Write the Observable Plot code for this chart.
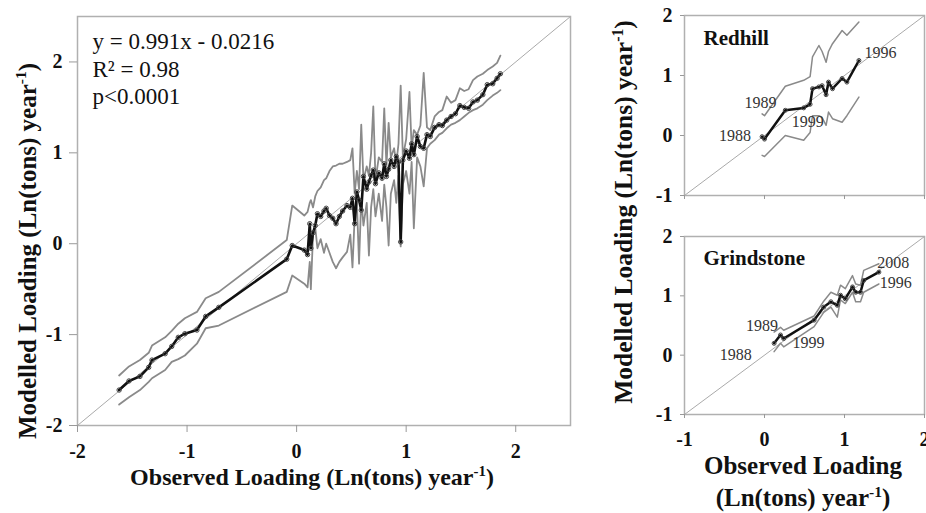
<!DOCTYPE html>
<html><head><meta charset="utf-8">
<script src="https://cdn.jsdelivr.net/npm/d3@7"></script>
<script src="https://cdn.jsdelivr.net/npm/@observablehq/plot@0.6"></script>
<style>
body{margin:0;background:#fff;}
#wrap{position:relative;width:926px;height:513px;overflow:hidden;font-family:"Liberation Serif","Times New Roman",serif;}
.panel{position:absolute;}
.title{position:absolute;font-weight:bold;white-space:nowrap;color:#111;line-height:1;}
.title sup{font-size:0.62em;vertical-align:0.6em;line-height:0;}
</style></head>
<body><div id="wrap"></div>
<script>
// ---------- main panel data ----------
const mainDomain = [-2, 2.5];
const mainTicks = [-2, -1, 0, 1, 2];
const mainObserved = [-1.62,-1.53,-1.43,-1.35,-1.32,-1.20,-1.14,-1.08,-1.02,-0.91,-0.83,-0.71,-0.09,-0.04,0.07,
 0.10,0.12,0.13,0.15,0.17,0.19,0.22,0.25,0.27,0.30,0.33,0.36,0.39,0.42,0.46,0.49,0.51,0.53,0.55,0.57,
 0.59,0.61,0.64,0.66,0.68,0.70,0.72,0.75,0.78,0.80,0.82,0.84,0.86,0.89,0.91,0.93,0.95,0.97,1.00,1.03,
 1.05,1.07,1.10,1.13,1.16,1.19,1.22,1.26,1.30,1.33,1.37,1.41,1.45,1.49,1.53,1.57,1.61,1.65,1.70,1.74,
 1.79,1.83,1.86];
const mainModelled = [-1.61,-1.51,-1.46,-1.36,-1.28,-1.21,-1.13,-1.03,-0.99,-0.95,-0.80,-0.70,-0.17,-0.02,-0.07,
 -0.12,0.22,-0.05,0.12,0.20,0.33,0.30,0.36,0.39,0.31,0.28,0.22,0.30,0.36,0.42,0.40,0.50,0.22,0.57,0.48,
 0.37,0.74,0.60,0.68,0.75,0.81,0.66,0.78,0.72,0.88,0.74,0.82,0.92,0.85,0.96,0.90,0.02,0.92,1.02,0.94,
 1.10,0.98,1.18,1.07,1.05,1.20,1.18,1.28,1.31,1.30,1.36,1.40,1.43,1.52,1.50,1.49,1.56,1.58,1.64,1.75,
 1.76,1.82,1.87];
const mainUpper = [-1.45,-1.35,-1.28,-1.20,-1.12,-1.03,-0.96,-0.88,-0.82,-0.75,-0.60,-0.53,0.04,0.42,0.31,
 0.35,0.45,0.48,0.40,0.52,0.58,0.62,0.70,0.72,0.80,0.85,0.86,0.88,0.88,0.90,0.92,1.05,0.55,0.80,0.60,
 1.31,0.70,0.85,0.75,1.00,1.51,0.70,0.95,0.90,1.49,0.85,1.33,0.95,1.05,0.88,1.10,1.74,0.95,1.15,1.67,
 1.05,1.25,1.20,1.30,1.88,1.28,1.25,1.40,1.45,1.47,1.62,1.55,1.58,1.71,1.68,1.70,1.80,1.84,1.87,1.91,
 1.95,1.99,2.07];
const mainLower = [-1.77,-1.69,-1.61,-1.52,-1.48,-1.39,-1.30,-1.27,-1.23,-1.10,-0.93,-0.90,-0.53,-0.35,-0.44,
 -0.48,-0.20,-0.50,0.10,0.18,-0.05,0.05,-0.10,0.00,-0.10,-0.20,-0.27,-0.20,-0.15,-0.09,0.10,-0.26,0.30,0.45,-0.22,
 0.50,0.20,0.45,-0.13,0.40,0.60,0.30,0.55,0.25,0.65,0.40,-0.02,0.55,0.70,0.45,0.75,-0.03,0.65,0.80,0.55,
 0.90,0.17,0.95,0.85,0.63,1.05,1.10,1.14,1.20,1.22,1.27,1.31,1.33,1.36,1.40,1.44,1.47,1.49,1.53,1.58,
 1.63,1.66,1.69];
const mainStats = ["y = 0.991x - 0.0216", "R\u00b2 = 0.98", "p<0.0001"];

// ---------- Redhill ----------
const sideDomain = [-1, 2];
const sideTicks = [-1, 0, 1, 2];
const redhillObserved = [-0.03,0.00,0.26,0.49,0.57,0.60,0.68,0.72,0.77,0.80,0.85,0.97,1.03,1.18];
const redhillModelled = [-0.02,-0.06,0.42,0.46,0.52,0.78,0.81,0.83,0.68,0.89,0.78,0.95,0.89,1.25];
const redhillUpper    = [0.36,0.33,0.82,0.92,0.98,1.31,1.50,1.40,1.22,1.40,1.53,1.75,1.67,1.89];
const redhillLower    = [-0.33,-0.35,0.00,-0.08,0.05,0.33,0.33,0.30,0.17,0.39,0.28,0.22,0.33,0.64];
const redhillYears  = ["1988","1989","1999","1996"];
const redhillYearX  = [-0.37,-0.05,0.54,1.45];
const redhillYearY  = [0.00,0.55,0.22,1.38];

// ---------- Grindstone ----------
const grindObserved = [0.12,0.20,0.24,0.62,0.74,0.83,0.91,0.95,1.01,1.10,1.14,1.20,1.24,1.43];
const grindModelled = [0.20,0.34,0.28,0.59,0.81,0.90,0.84,1.01,0.95,1.15,1.06,1.06,1.26,1.40];
const grindUpper    = [0.39,0.47,0.42,0.66,0.91,1.06,1.01,1.18,1.12,1.34,1.20,1.18,1.43,1.54];
const grindLower    = [0.06,0.20,0.14,0.48,0.72,0.81,0.64,0.93,0.87,1.06,0.90,0.90,1.06,1.20];
const grindYears = ["2008","1996","1989","1999","1988"];
const grindYearX = [1.61,1.64,-0.03,0.55,-0.36];
const grindYearY = [1.56,1.21,0.50,0.20,0.00];

const FONT = '"Liberation Serif","Times New Roman",serif';
const rows = (xs, ys, us, ls) => xs.map((x, i) => ({x, y: ys[i], up: us[i], lo: ls[i]}));
const labels = (t, xs, ys) => t.map((s, i) => ({text: s, x: xs[i], y: ys[i]}));

function seriesMarks(data, lineW, greyW, dotR) {
  return [
    Plot.line(data, {x: "x", y: "up", stroke: "#8a8a8a", strokeWidth: greyW}),
    Plot.line(data, {x: "x", y: "lo", stroke: "#8a8a8a", strokeWidth: greyW}),
    Plot.line(data, {x: "x", y: "y", stroke: "#111", strokeWidth: lineW}),
    Plot.dot(data, {x: "x", y: "y", r: dotR, stroke: "#444", fill: "none", strokeWidth: 1})
  ];
}

// ---------- main plot ----------
const mainData = rows(mainObserved, mainModelled, mainUpper, mainLower);
const mainPlot = Plot.plot({
  width: 600, height: 513,
  marginLeft: 77, marginRight: 30, marginTop: 16, marginBottom: 88,
  x: {domain: mainDomain, label: null},
  y: {domain: mainDomain, label: null},
  style: {fontFamily: FONT, fontSize: "20px", fontWeight: "bold", background: "transparent", color: "#111"},
  marks: [
    Plot.line(mainDomain, {x: d => d, y: d => d, stroke: "#aaa", strokeWidth: 1}),
    ...seriesMarks(mainData, 2.6, 1.8, 2.2),
    Plot.frame({stroke: "#b0b0b0", strokeWidth: 1.5}),
    Plot.axisX({ticks: mainTicks, tickSize: 7, tickPadding: 11, stroke: "#999", fill: "#111", tickFormat: d => String(d), label: null}),
    Plot.axisY({ticks: mainTicks, tickSize: 8, tickPadding: 7, stroke: "#999", fill: "#111", tickFormat: d => String(d), label: null}),
    Plot.text([mainStats.join("\n")], {frameAnchor: "top-left", dx: 15, dy: 13, lineAnchor: "top", textAnchor: "start",
      lineHeight: 1.2, fontSize: 23, fontWeight: "normal", fill: "#111"})
  ]
});
mainPlot.classList.add("panel");
mainPlot.style.left = "0px"; mainPlot.style.top = "0px";

function sidePanel(data, yearLabels, name, top, height, marginBottom, showXLabels, titleDy) {
  const p = Plot.plot({
    width: 326, height,
    marginLeft: 84, marginRight: 2, marginTop: top === 0 ? 15 : 16, marginBottom,
    x: {domain: sideDomain, label: null},
    y: {domain: sideDomain, label: null},
    style: {fontFamily: FONT, fontSize: "20px", fontWeight: "bold", background: "transparent", color: "#111", overflow: "visible"},
    marks: [
      Plot.line(sideDomain, {x: d => d, y: d => d, stroke: "#aaa", strokeWidth: 1}),
      ...seriesMarks(data, 2.5, 1.5, 2),
      Plot.text(yearLabels, {x: "x", y: "y", text: "text", fontSize: 16, fontWeight: "normal", fill: "#333"}),
      Plot.frame({stroke: "#b0b0b0", strokeWidth: 1.5}),
      Plot.axisX({ticks: sideTicks, tickSize: 4, tickPadding: 13, stroke: "#999", fill: "#111",
        tickFormat: showXLabels ? (d => String(d)) : (() => ""), label: null}),
      Plot.axisY({ticks: sideTicks, tickSize: 4, tickPadding: 8, stroke: "#999", fill: "#111", tickFormat: d => String(d), label: null}),
      Plot.text([name], {frameAnchor: "top-left", dx: 19, dy: titleDy, lineAnchor: "top", textAnchor: "start", fontSize: 21, fill: "#111"})
    ]
  });
  p.classList.add("panel");
  p.style.left = "600px"; p.style.top = top + "px";
  return p;
}

const redhill = sidePanel(rows(redhillObserved, redhillModelled, redhillUpper, redhillLower),
  labels(redhillYears, redhillYearX, redhillYearY), "Redhill", 0, 205, 10, false, 15);
const grind = sidePanel(rows(grindObserved, grindModelled, grindUpper, grindLower),
  labels(grindYears, grindYearX, grindYearY), "Grindstone", 220, 293, 99, true, 14);

const wrap = document.getElementById("wrap");
wrap.append(mainPlot, redhill, grind);

function addTitle(html, left, top, size, rotate, lh) {
  const d = document.createElement("div");
  d.className = "title";
  d.innerHTML = html;
  d.style.fontSize = size + "px";
  d.style.left = left + "px";
  d.style.top = top + "px";
  if (lh) { d.style.lineHeight = lh + "px"; d.style.textAlign = "center"; }
  d.style.transform = rotate ? "translate(-50%,-50%) rotate(-90deg)" : "translate(-50%,0)";
  wrap.append(d);
}
const yTitle = "Modelled Loading (Ln(tons) year<sup>-1</sup>)";
addTitle("Observed Loading (Ln(tons) year<sup>-1</sup>)", 312, 465, 24, false);
addTitle(yTitle, 27, 251, 25, true);
addTitle(yTitle, 624, 212, 25.5, true);
addTitle("Observed Loading<br>(Ln(tons) year<sup>-1</sup>)", 803, 450, 25, false, 32);
</script></body></html>
